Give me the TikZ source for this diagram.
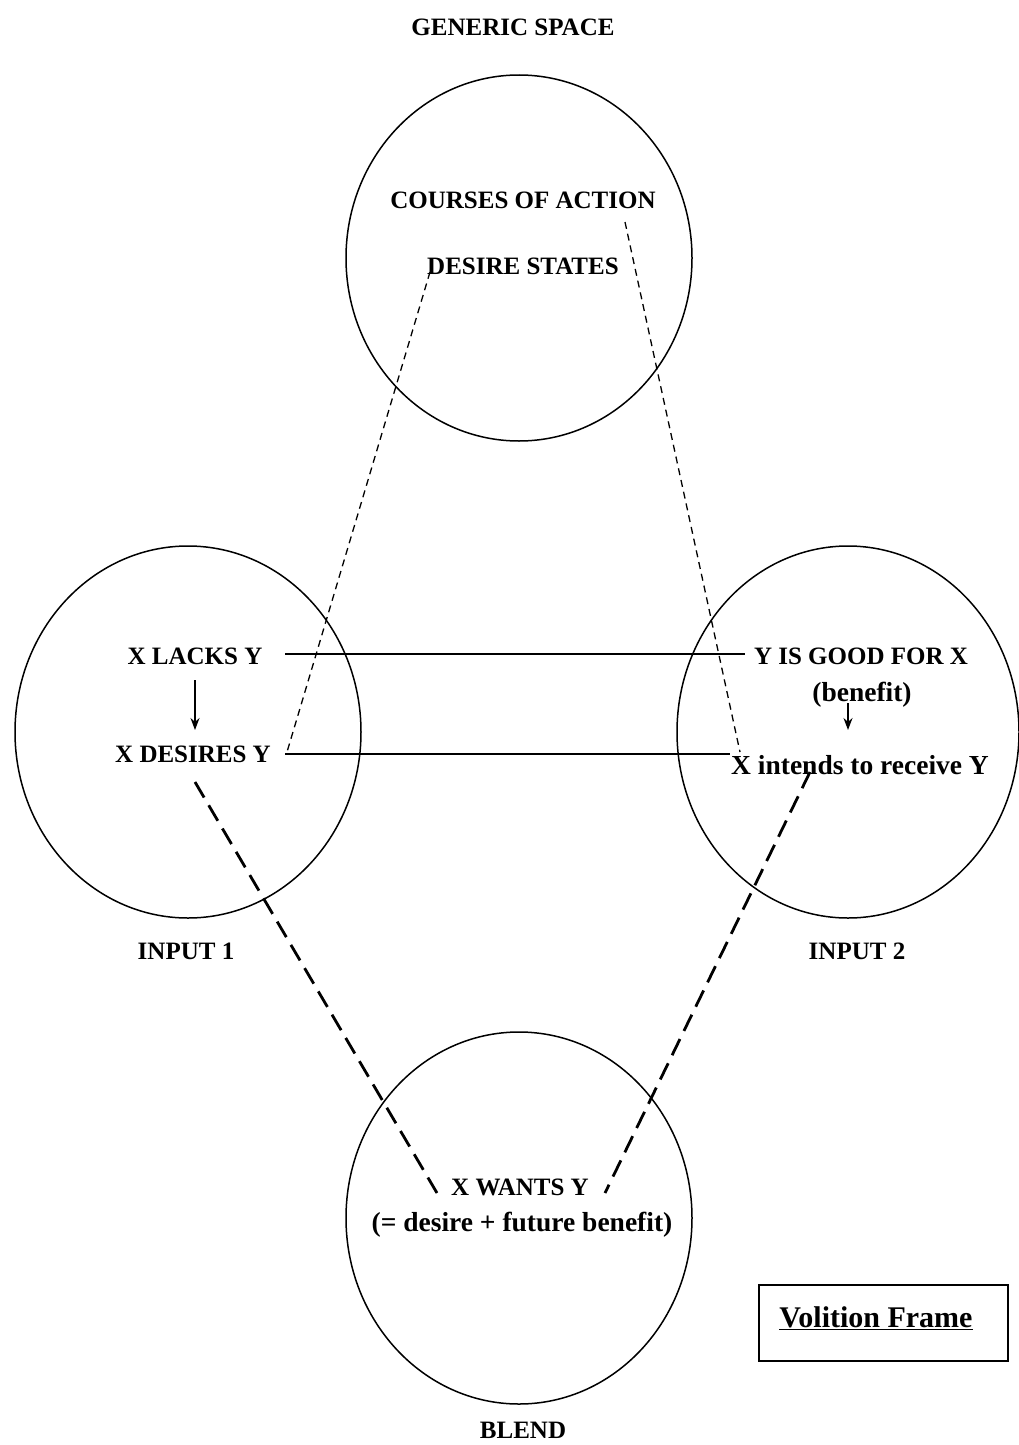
\documentclass[tikz,border=0pt]{standalone}
\usepackage{fontspec}
\setmainfont{Liberation Serif}
\usetikzlibrary{shapes.geometric,arrows.meta}
\begin{document}
\begin{tikzpicture}[x=1pt,y=-1pt,
  space/.style={draw,line width=1.5pt,ellipse,minimum width=346pt,minimum height=372pt,inner sep=0pt},
  lbl/.style={font=\bfseries\fontsize{25}{27}\selectfont,inner sep=0pt,text depth=0pt},
  lbls/.style={font=\bfseries\fontsize{27.5}{29}\selectfont,inner sep=0pt,text depth=0pt},
  solidlink/.style={line width=1.5pt},
  thinlink/.style={line width=1.3pt,dash pattern=on 7pt off 5pt},
  thicklink/.style={line width=2.8pt,dash pattern=on 18pt off 9pt},
  arr/.style={line width=1.3pt,-{Stealth[length=12pt,width=9pt]}}]
\useasboundingbox (0,0) rectangle (1018,1445);
\node[space,minimum height=366pt] (gen) at (519,258) {};
\node[space] (in1) at (188,732) {};
\node[space,minimum width=342pt] (in2) at (848,732) {};
\node[space] (bl) at (519,1218) {};
\node[lbl] (tgen) at (513,27) {GENERIC SPACE};
\node[lbl] (coa) at (523,200) {COURSES OF ACTION};
\node[lbl] (des) at (523,266) {DESIRE STATES};
\node[lbl] (lacks) at (195,656) {X LACKS Y};
\node[lbl] (desires) at (193,754) {X DESIRES Y};
\node[lbl] (good) at (861,656) {Y IS GOOD FOR X};
\node[lbls] (ben) at (862,692) {(benefit)};
\node[lbls] (intends) at (860,765) {X intends to receive Y};
\node[lbl] (i1) at (186,951) {INPUT 1};
\node[lbl] (i2) at (857,951) {INPUT 2};
\node[lbl] (wants) at (520,1187) {X WANTS Y};
\node[lbls] (eq) at (522,1222) {(= desire + future benefit)};
\node[lbl] (tbl) at (523,1430) {BLEND};
\node[draw,line width=1.6pt,minimum width=249pt,minimum height=76pt,inner sep=0pt] (vf) at (883.5,1323) {};
\node[font=\bfseries\fontsize{30}{32}\selectfont,inner sep=0pt] (vft) at (876,1318) {\underline{Volition Frame}};
\coordinate (a1) at (285,654);
\coordinate (a2) at (745,654);
\coordinate (b1) at (285,754);
\coordinate (b2) at (730,754);
\coordinate (c1) at (430,272);
\coordinate (c2) at (287,752);
\coordinate (d1) at (625,222);
\coordinate (d2) at (740,752);
\coordinate (e1) at (195,782);
\coordinate (e2) at (437,1193);
\coordinate (f1) at (810,772);
\coordinate (f2) at (605,1193);
\draw[solidlink] (a1) -- (a2);
\draw[solidlink] (b1) -- (b2);
\draw[thinlink] (c1) -- (c2);
\draw[thinlink] (d1) -- (d2);
\draw[thicklink] (e1) -- (e2);
\draw[thicklink] (f1) -- (f2);
\coordinate (g1) at (195,680);
\coordinate (g2) at (195,730);
\coordinate (h1) at (848,703);
\coordinate (h2) at (848,730);
\draw[arr] (g1) -- (g2);
\draw[arr] (h1) -- (h2);
\end{tikzpicture}
\end{document}
